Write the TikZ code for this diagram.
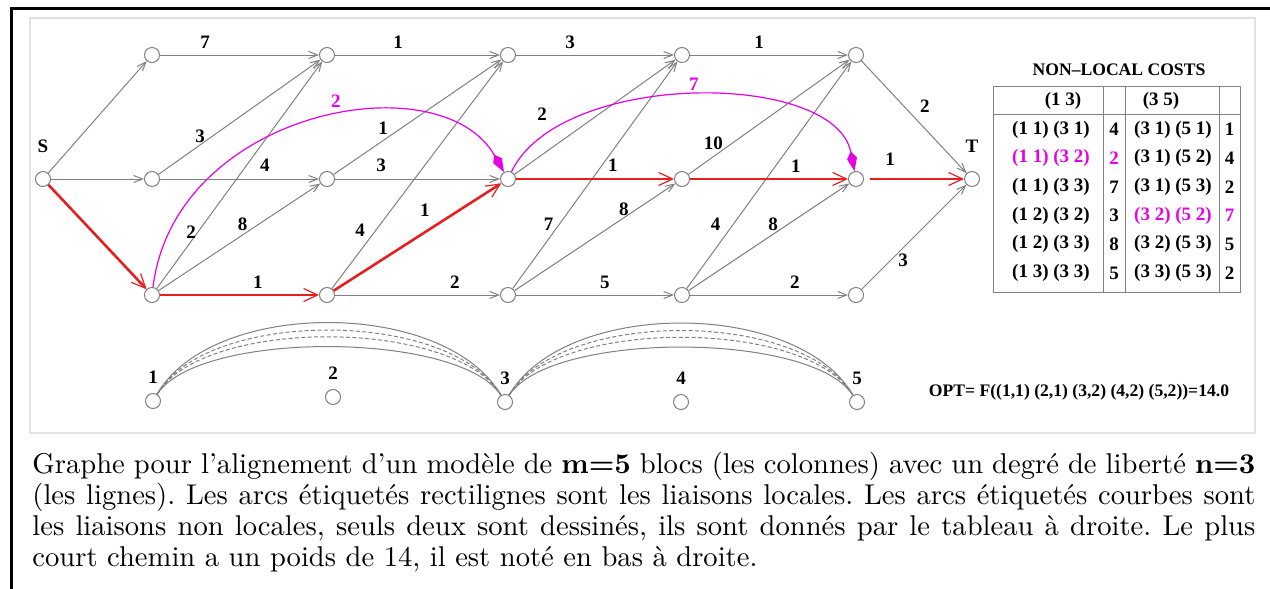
\documentclass[tikz,border=0pt]{standalone}
\usepackage{fontspec}
\newfontfamily\figfont{Liberation Serif}[Ligatures=TeX]
\newfontfamily\capfont{lmroman10-regular}[Extension=.otf, BoldFont=lmroman10-bold, Ligatures=TeX]
\usetikzlibrary{arrows.meta}
\definecolor{EdgeGray}{HTML}{808080}
\definecolor{PathRed}{HTML}{E62020}
\definecolor{NonLocal}{HTML}{E600E6}
\definecolor{BoxGray}{HTML}{E2E2E2}

\begin{document}
\begin{tikzpicture}[x=0.5pt, y=-0.5pt,
  vertex/.style={circle, draw=EdgeGray, line width=0.5pt, minimum size=7.5pt, inner sep=0pt},
  local/.style={draw=EdgeGray, line width=0.5pt, -{Straight Barb[length=4.5pt,width=3.5pt]}},
  best/.style={draw=PathRed, line width=1.3pt, -{Straight Barb[length=7pt,width=6.5pt,line width=0.6pt]}},
  nonlocal/.style={draw=NonLocal, line width=0.6pt, -{Kite[length=10pt,width=5pt,inset=3.5pt]}},
  band/.style={draw=EdgeGray, line width=0.5pt},
  weight/.style={font=\figfont\bfseries\fontsize{9.5}{11}\selectfont, inner sep=1pt},
  cell/.style={font=\figfont\bfseries\fontsize{9.5}{10}\selectfont, inner sep=0pt},
  tablerule/.style={draw=EdgeGray, line width=0.5pt}]
\useasboundingbox (0,0) rectangle (1270,589);
\draw[line width=1.5pt] (1270,8) -- (11.5,8) -- (11.5,589);
\draw[BoxGray, line width=0.6pt] (30,18) rectangle (1255,433);

\node[vertex, label={[weight, label distance=8pt]above:S}] (s) at (43,179) {};
\foreach \col/\x in {1/152,2/327,3/508,4/682,5/856}{
  \node[vertex] (t\col) at (\x,55) {};
  \node[vertex] (m\col) at (\x,179) {};
  \node[vertex] (b\col) at (\x,295) {};
}
\node[vertex, label={[weight, label distance=8pt]above:T}] (T) at (972,179) {};

\draw[local] (s) -- (t1);
\draw[local] (s) -- (m1);
\foreach \a/\b/\p/\dx/\dy/\w in {
  t1/t2/.284/0/-13/7, m1/t2/.257/0/-9/3, m1/m2/.659/0/-14/4, b1/t2/.25/-7/0/2, b1/m2/.52/0/-11/8,
  t2/t3/.383/0/-13/1, m2/t3/.295/0/-12/1, m2/m3/.28/0/-14/3, b2/t3/.259/-16/0/4, b2/b3/.726/0/-13/2,
  t3/t4/.343/0/-13/3, m3/t4/.172/0/-40/2, b3/t4/.285/-11/0/7, b3/m4/.705/-4/-6/8, b3/b4/.563/0/-13/5,
  t4/t5/.437/0/-13/1, m4/t5/.154/0/-13/10, b4/t5/.285/-18/0/4, b4/m5/.525/0/-10/8, b4/b5/.664/0/-13/2,
  t5/T/.604/0/-22/2, b5/T/.395/0/12/3}
  \draw[local] (\a) -- node[weight, pos=\p, shift={(\dx,\dy)}] {\w} (\b);

\draw[best] (s) -- (b1);
\foreach \a/\b/\p/\dx/\dy in {b1/b2/.616/0/-13, b2/m3/.544/0/-22, m3/m4/.613/0/-14, m4/m5/.67/0/-13}
  \draw[best] (\a) -- node[weight, pos=\p, shift={(\dx,\dy)}] {1} (\b);
\draw[best, shorten <=3pt] (m5) -- node[weight, pos=.262, shift={(0,-20)}] {1} (T);

\draw[nonlocal] (b1) .. controls +(23,-185) and +(-68,-119) .. node[weight, text=NonLocal, pos=.55, shift={(0,-15)}] {2} (m3);
\draw[nonlocal] (m3) .. controls +(52,-109) and +(-21,-109) .. node[weight, text=NonLocal, pos=.5, shift={(0,-11)}] {7} (m5);

\node[cell, font=\figfont\bfseries\fontsize{8.8}{10}\selectfont] (title) at (1119,70) {NON--LOCAL COSTS};
\draw[tablerule] (993,86) rectangle (1240,292);
\foreach \x in {1103,1125,1219}
  \draw[tablerule] (\x,86) -- (\x,292);
\draw[tablerule] (993,114) -- (1240,114);
\node[cell] (h13) at (1063,101) {(1 3)};
\node[cell] (h35) at (1161,101) {(3 5)};
\foreach \row/\y/\pa/\ka/\pb/\kb/\ca/\cb in {
  1/129.5/{(1 1) (3 1)}/4/{(3 1) (5 1)}/1/black/black,
  2/158.2/{(1 1) (3 2)}/2/{(3 1) (5 2)}/4/NonLocal/black,
  3/186.9/{(1 1) (3 3)}/7/{(3 1) (5 3)}/2/black/black,
  4/215.6/{(1 2) (3 2)}/3/{(3 2) (5 2)}/7/black/NonLocal,
  5/244.3/{(1 2) (3 3)}/8/{(3 2) (5 3)}/5/black/black,
  6/273/{(1 3) (3 3)}/5/{(3 3) (5 3)}/2/black/black}{
  \node[cell, text=\ca] (pa\row) at (1051,\y) {\pa};
  \node[cell, text=\ca] (ka\row) at (1114,\y) {\ka};
  \node[cell, text=\cb] (pb\row) at (1173,\y) {\pb};
  \node[cell, text=\cb] (kb\row) at (1229.5,\y) {\kb};
}

\foreach \i/\x/\y in {1/153/401,2/333/397,3/505/402,4/681/402,5/857/402}
  \node[vertex, label={[weight, label distance=3.5pt]above:\i}] (p\i) at (\x,\y) {};
\foreach \a/\b in {p1/p3,p3/p5}{
  \draw[band] (\a) .. controls +(60,-103) and +(-60,-103) .. (\b);
  \draw[band, dash pattern=on 2pt off 1.2pt] (\a) .. controls +(55,-93) and +(-55,-93) .. (\b);
  \draw[band, dash pattern=on 2pt off 1.2pt] (\a) .. controls +(50,-84) and +(-50,-84) .. (\b);
  \draw[band] (\a) .. controls +(45,-71) and +(-45,-71) .. (\b);
}
\node[weight, font=\figfont\bfseries\fontsize{8.8}{10}\selectfont] (opt) at (1079,392) {OPT= F((1,1) (2,1) (3,2) (4,2) (5,2))=14.0};

\node[anchor=base west, inner sep=0pt, text width=611.5pt, align=justify, font=\capfont\fontsize{14.3}{15.65}\selectfont\frenchspacing] (caption) at (32,473)
  {Graphe pour l'alignement d'un modèle de \textbf{m=5} blocs (les colonnes) avec un degré de liberté \textbf{n=3}\linebreak
   (les lignes). Les arcs étiquetés rectilignes sont les liaisons locales. Les arcs étiquetés courbes sont\linebreak
   les liaisons non locales, seuls deux sont dessinés, ils sont donnés par le tableau à droite. Le plus\linebreak
   court chemin a un poids de 14, il est noté en bas à droite.};
\end{tikzpicture}
\end{document}
